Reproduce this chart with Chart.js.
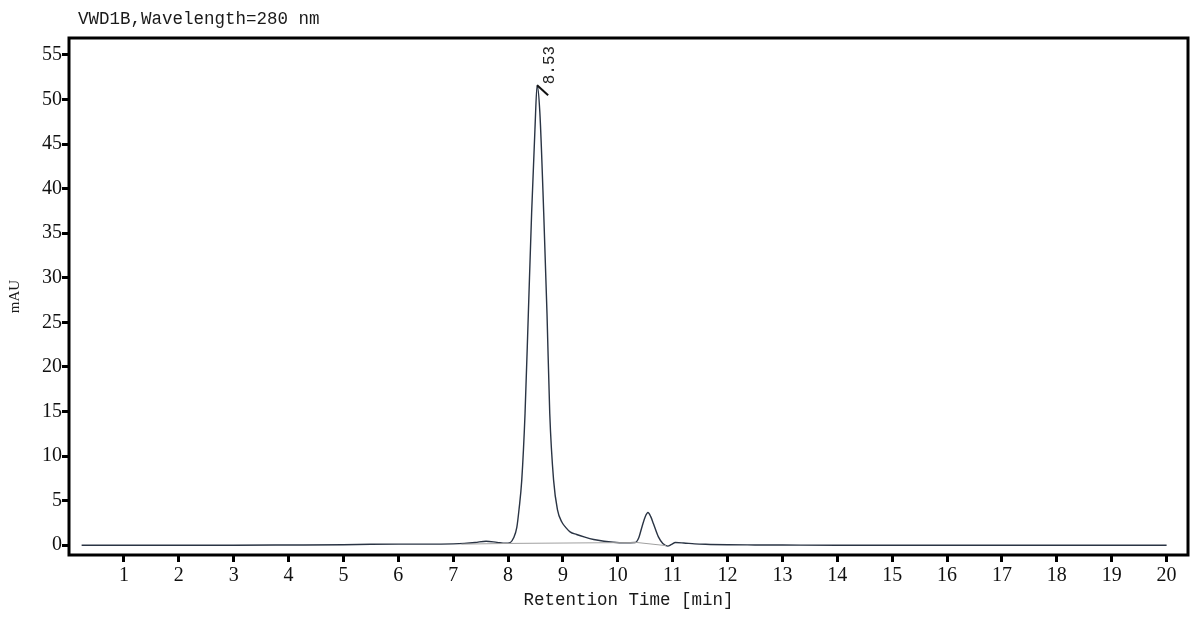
<!DOCTYPE html>
<html>
<head>
<meta charset="utf-8">
<script src="https://cdn.jsdelivr.net/npm/chart.js@4"></script>
<style>
  html, body { margin: 0; padding: 0; background: #fff; }
  canvas { display: block; }
</style>
</head>
<body>
<canvas id="chromChart" width="1200" height="619"></canvas>
<script>
// retention time (min) and detector signal (mAU)
const times = [0.23, 1, 2, 3, 4, 5, 5.5, 6, 6.5, 7, 7.2, 7.4, 7.6, 7.8, 7.95, 8.04, 8.1, 8.16, 8.2, 8.25,
  8.31, 8.37, 8.43, 8.49, 8.53, 8.58, 8.65, 8.71, 8.76, 8.83, 8.9, 8.98, 9.05, 9.13, 9.25, 9.4, 9.56,
  9.75, 9.92, 10.1, 10.32, 10.38, 10.44, 10.5, 10.55, 10.6, 10.65, 10.74, 10.82, 10.91, 10.98, 11.05,
  11.2, 11.4, 11.6, 12, 12.5, 13, 14, 15, 16, 17, 18, 19, 20];
const signal = [0.0, 0.0, 0.0, 0.0, 0.02, 0.05, 0.1, 0.12, 0.12, 0.15, 0.2, 0.3, 0.45, 0.32, 0.22, 0.3, 0.8,
  2.0, 4.0, 7.3, 14.8, 26, 37.3, 46.6, 51.6, 48.5, 37.3, 26, 14.8, 7.3, 4.0, 2.6, 2.0, 1.5, 1.2, 0.9,
  0.64, 0.45, 0.34, 0.28, 0.3, 0.8, 2.05, 3.2, 3.67, 3.2, 2.4, 0.93, 0.2, -0.1, 0.1, 0.3, 0.25, 0.15,
  0.1, 0.05, 0.03, 0.02, 0.0, 0.0, 0.0, 0.0, 0.0, 0.0, 0.0];

// integration baseline drawn under the peaks
const baseTimes = [7.15, 8.03, 10.35, 10.88];
const baseValues = [0.12, 0.2, 0.3, -0.05];

// labelled peaks
const peakTimes = [8.53];
const peakHeights = [51.6];
const peakLabels = ["8.53"];

const xTicks = [1, 2, 3, 4, 5, 6, 7, 8, 9, 10, 11, 12, 13, 14, 15, 16, 17, 18, 19, 20];
const yTicks = [0, 5, 10, 15, 20, 25, 30, 35, 40, 45, 50, 55];

const chartTitle = "VWD1B,Wavelength=280 nm";

const framePlugin = {
  id: "frame",
  afterDraw(chart) {
    const { ctx, chartArea: a, scales } = chart;
    ctx.save();
    ctx.strokeStyle = "#000";
    ctx.lineWidth = 3;
    ctx.strokeRect(a.left, a.top, a.right - a.left, a.bottom - a.top);

    ctx.fillStyle = "#1a1a1a";
    ctx.font = "17.5px 'Liberation Mono'";
    ctx.textBaseline = "middle";
    ctx.textAlign = "left";
    ctx.fillText(chartTitle, 78, 19);

    peakTimes.forEach((t, i) => {
      const px = scales.x.getPixelForValue(t);
      const py = scales.y.getPixelForValue(peakHeights[i]);
      ctx.strokeStyle = "#111";
      ctx.lineWidth = 2;
      ctx.beginPath();
      ctx.moveTo(px, py);
      ctx.lineTo(px + 11, py + 10);
      ctx.stroke();
      ctx.save();
      ctx.translate(px + 13, py - 1);
      ctx.rotate(-Math.PI / 2);
      ctx.fillStyle = "#222";
      ctx.font = "16px 'Liberation Mono'";
      ctx.textAlign = "left";
      ctx.textBaseline = "middle";
      ctx.fillText(peakLabels[i], 0, 0);
      ctx.restore();
    });
    ctx.restore();
  },
};

const ctx = document.getElementById("chromChart").getContext("2d");
new Chart(ctx, {
  type: "line",
  data: {
    datasets: [
      {
        label: "baseline",
        data: baseTimes.map((t, i) => ({ x: t, y: baseValues[i] })),
        borderColor: "#a0a0a0",
        borderWidth: 1,
        pointRadius: 0,
        tension: 0,
      },
      {
        label: "signal",
        data: times.map((t, i) => ({ x: t, y: signal[i] })),
        borderColor: "#2a3444",
        borderWidth: 1.4,
        pointRadius: 0,
        cubicInterpolationMode: "monotone",
      },
    ],
  },
  plugins: [framePlugin],
  options: {
    responsive: false,
    animation: false,
    devicePixelRatio: 1,
    layout: { padding: { top: 38, right: 12, left: 0, bottom: 0 } },
    plugins: {
      legend: { display: false },
      tooltip: { enabled: false },
    },
    scales: {
      x: {
        type: "linear",
        min: 0,
        max: 20.39,
        afterBuildTicks: (s) => { s.ticks = xTicks.map((v) => ({ value: v })); },
        afterFit: (s) => { s.height = 64; },
        grid: { drawOnChartArea: false, drawTicks: true, tickLength: 7, tickWidth: 3, tickColor: "#000" },
        border: { display: false },
        ticks: {
          font: { family: "'Liberation Serif'", size: 20 },
          color: "#111",
          padding: 2,
          maxRotation: 0,
          autoSkip: false,
        },
        title: {
          display: true,
          text: "Retention Time [min]",
          font: { family: "'Liberation Mono'", size: 17.5 },
          color: "#1a1a1a",
          padding: { top: 0, bottom: 8 },
        },
      },
      y: {
        min: -1.1,
        max: 56.9,
        afterBuildTicks: (s) => { s.ticks = yTicks.map((v) => ({ value: v })); },
        afterFit: (s) => { s.width = 69; },
        grid: { drawOnChartArea: false, drawTicks: true, tickLength: 7, tickWidth: 3, tickColor: "#000" },
        border: { display: false },
        ticks: {
          font: { family: "'Liberation Serif'", size: 20 },
          color: "#111",
          padding: 0,
        },
        title: {
          display: true,
          text: "mAU",
          font: { family: "'Liberation Serif'", size: 15 },
          color: "#1a1a1a",
          padding: { top: 6, bottom: 0 },
        },
      },
    },
  },
});
</script>
</body>
</html>
